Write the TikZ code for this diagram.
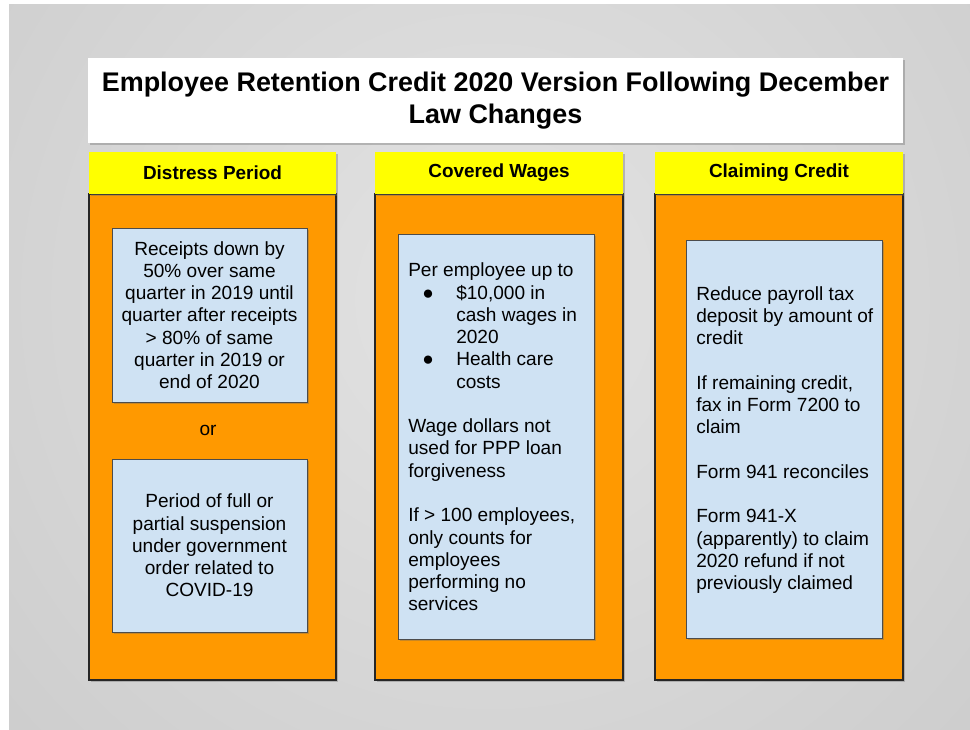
\documentclass[tikz,border=0pt]{standalone}
\usepackage{fontspec}
\setmainfont{Liberation Sans}
\usepackage{xcolor}
\usetikzlibrary{positioning,fit,shadows}
\definecolor{panelorange}{HTML}{FF9900}
\definecolor{headyellow}{HTML}{FFFF00}
\definecolor{noteblue}{HTML}{CFE2F3}
\tikzset{
  softshadow/.style={drop shadow={shadow xshift=1.6pt,shadow yshift=-1.6pt,opacity=0.35,fill=black!60}},
  titlebox/.style={fill=white,inner sep=0pt,softshadow},
  headbar/.style={fill=headyellow,inner sep=0pt,softshadow},
  panel/.style={draw=black!85,line width=0.8pt,fill=panelorange,inner sep=0pt,softshadow},
  notebox/.style={draw=black!70,line width=0.6pt,fill=noteblue,inner sep=0pt,softshadow},
  headtext/.style={font=\fontsize{14.2}{17}\selectfont\bfseries},
  bodytext/.style={font=\fontsize{14.3}{16.7}\selectfont},
}
\newcommand\bul{\hspace*{10.5pt}\makebox[25.5pt][l]{●}}
\newcommand\ind{\hspace*{36pt}}
\begin{document}
\begin{tikzpicture}[x=0.75pt,y=-0.75pt]
  \useasboundingbox (0,0) rectangle (970,729);
  % slide background: light in the middle, darker towards the edges
  \begin{scope}
    \clip (9,4) rectangle (970,729);
    \shade[inner color=black!11,outer color=black!27] (490,300) circle (930pt);
  \end{scope}

  % title
  \node[titlebox,fit={(88,58) (903,143)}] (title) {};
  \node[align=center,font=\fontsize{20.2}{24}\selectfont\bfseries] (titletext) at (title)
    {Employee Retention Credit 2020 Version Following December\\Law Changes};

  % three panels
  \node[panel,fit={(89,194) (336,680)}] (distress) {};
  \node[panel,fit={(375,194) (623,680)}] (wages) {};
  \node[panel,fit={(655,194) (903,680)}] (claiming) {};

  \node[headbar,fit={(89,152) (336,194)}] (distresshead) {};
  \node[headbar,fit={(375,152) (623,194)}] (wageshead) {};
  \node[headbar,fit={(655,152) (903,194)}] (claiminghead) {};
  \node[headtext] at (distresshead) {Distress Period};
  \node[headtext] at (wageshead) {Covered Wages};
  \node[headtext] at (claiminghead) {Claiming Credit};

  % distress period
  \node[notebox,fit={(112,228) (307,402)}] (receipts) {};
  \node[bodytext,align=center] at (receipts) {Receipts down by\\50\% over same\\quarter in 2019 until\\quarter after receipts\\> 80\% of same\\quarter in 2019 or\\end of 2020};
  \node[bodytext] (or) at (208,430) {or};
  \node[notebox,fit={(112,459) (307,632)}] (suspension) {};
  \node[bodytext,align=center] at (suspension) {Period of full or\\partial suspension\\under government\\order related to\\COVID-19};

  % covered wages
  \node[notebox,fit={(398,234) (594,639)}] (perempl) {};
  \node[bodytext,align=left,anchor=west,inner sep=0pt] at (408,437) {Per employee up to\\
    \bul\$10,000 in\\\ind cash wages in\\\ind 2020\\
    \bul Health care\\\ind costs\\[\baselineskip]
    Wage dollars not\\used for PPP loan\\forgiveness\\[\baselineskip]
    If > 100 employees,\\only counts for\\employees\\performing no\\services};

  % claiming credit
  \node[notebox,fit={(686,240) (882,638)}] (reduce) {};
  \node[bodytext,align=left,anchor=west,inner sep=0pt] at (696,440) {Reduce payroll tax\\deposit by amount of\\credit\\[\baselineskip]
    If remaining credit,\\fax in Form 7200 to\\claim\\[\baselineskip]
    Form 941 reconciles\\[\baselineskip]
    Form 941-X\\(apparently) to claim\\2020 refund if not\\previously claimed};
\end{tikzpicture}
\end{document}
